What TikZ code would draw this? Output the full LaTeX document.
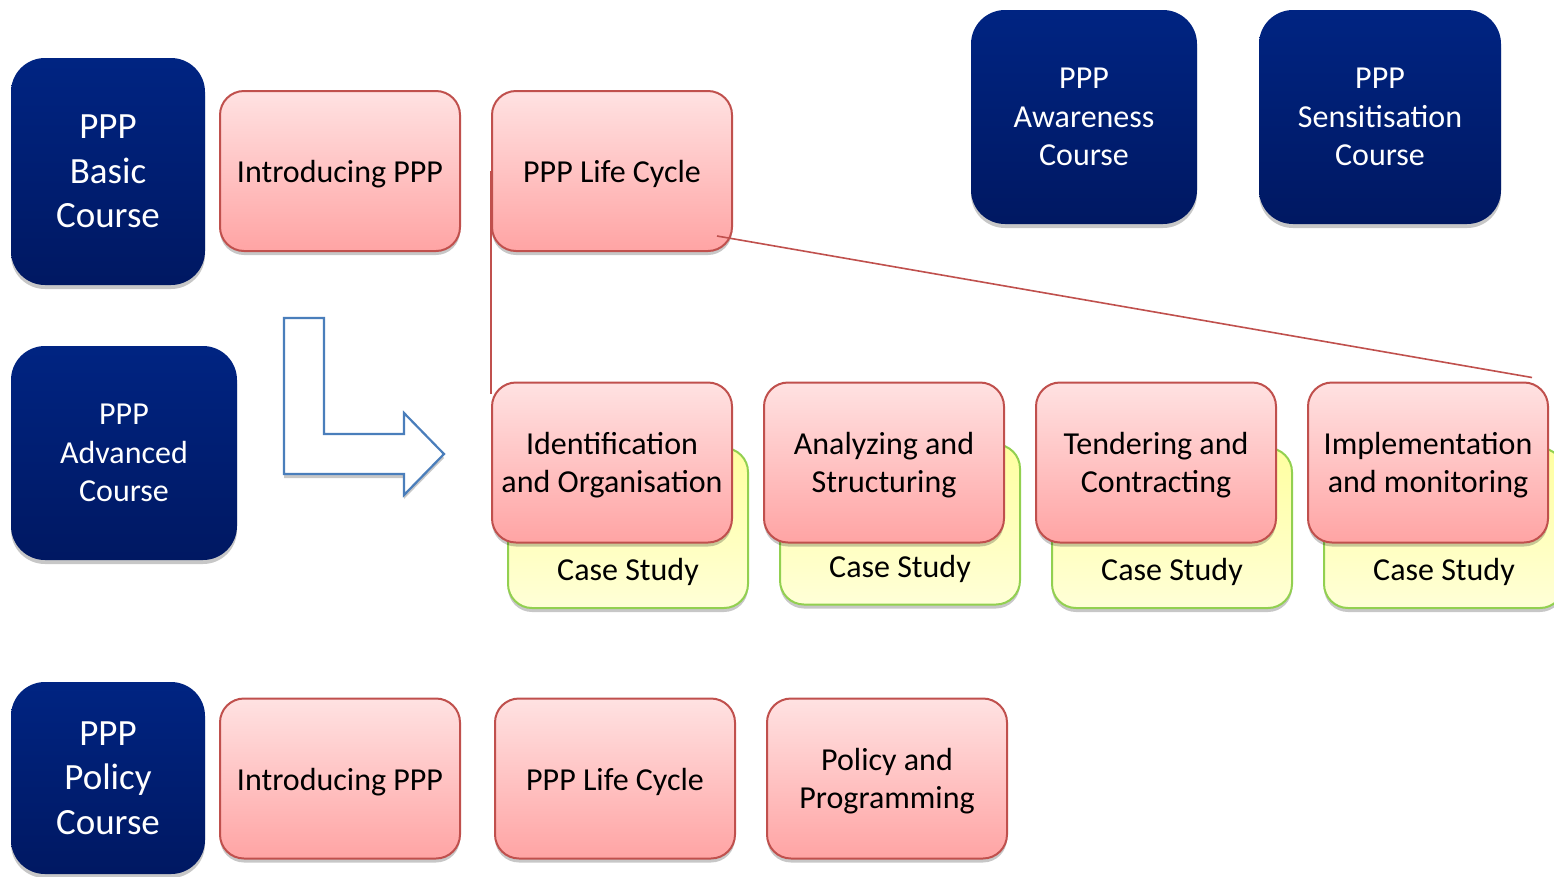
\documentclass[tikz,border=0pt]{standalone}
\usepackage{fontspec}
\setmainfont{Carlito}
\usetikzlibrary{shadows,calc}
\definecolor{navytop}{RGB}{0,36,130}
\definecolor{navybot}{RGB}{0,24,98}
\definecolor{pinktop}{RGB}{255,226,226}
\definecolor{pinkbot}{RGB}{255,164,164}
\definecolor{pinkline}{RGB}{192,80,77}
\definecolor{yeltop}{RGB}{255,255,160}
\definecolor{yelbot}{RGB}{255,255,215}
\definecolor{yelline}{RGB}{146,208,80}
\definecolor{arrowline}{RGB}{74,126,187}
\newcommand{\twolines}[2]{\begin{tabular}{@{}c@{}}\rule{0pt}{34pt}#1\\#2\end{tabular}}
\tikzset{
 shad/.style={drop shadow={shadow xshift=0pt,shadow yshift=-4pt,opacity=0.22,fill=black}},
 course/.style={shad, rectangle, rounded corners=34pt, top color=navytop, bottom color=navybot, draw=none, text=white, align=center, inner sep=0pt},
 bigtxt/.style={font=\fontsize{37}{44.5}\selectfont},
 midtxt/.style={font=\fontsize{32}{38.5}\selectfont},
 topic/.style={shad, rectangle, rounded corners=24pt, top color=pinktop, bottom color=pinkbot, draw=pinkline, line width=2pt, minimum width=240pt, minimum height=160pt, inner sep=0pt, font=\fontsize{32}{38}\selectfont},
 onetopic/.style={topic, execute at begin node={\rule{0pt}{29pt}}},
 casebox/.style={shad, rectangle, rounded corners=24pt, top color=yeltop, bottom color=yelbot, draw=yelline, line width=2pt, minimum width=240pt, minimum height=160pt},
 casetxt/.style={font=\fontsize{32}{38}\selectfont, inner sep=0pt},
 link/.style={draw=pinkline, line width=1.6pt},
 bentarrow/.style={draw=arrowline, line width=2.2pt, fill=white, shad, line join=miter},
}
\begin{document}
\begin{tikzpicture}[x=1pt,y=-1pt]
\useasboundingbox (0,0) rectangle (1554,876);
\fill[white] (0,0) rectangle (1554,876);
\clip (0,0) rectangle (1554,876);

% course boxes
\node[course, bigtxt, minimum width=194pt, minimum height=227pt] (basic) at (108,171.5) {PPP\\Basic\\Course};
\node[course, midtxt, minimum width=226pt, minimum height=214pt] (adv) at (124,453) {PPP\\Advanced\\Course};
\node[course, bigtxt, minimum width=194pt, minimum height=192pt] (pol) at (108,778) {PPP\\Policy\\Course};
\node[course, midtxt, minimum width=226pt, minimum height=214pt] (awa) at (1084,117) {PPP\\Awareness\\Course};
\node[course, midtxt, minimum width=242pt, minimum height=214pt] (sen) at (1380,117) {PPP\\Sensitisation\\Course};

% bent arrow
\draw[bentarrow] (284,318) -- (324,318) -- (324,434) -- (404,434) -- (404,413) -- (444,454) -- (404,495) -- (404,474) -- (284,474) -- cycle;

% case study boxes
\node[casebox] (cs1) at (628,528) {};
\node[casebox] (cs2) at (900,524.5) {};
\node[casebox] (cs3) at (1172,528) {};
\node[casebox] (cs4) at (1444,528) {};
\node[casetxt] (ct1) at ($(cs1.south)+(0,-37)$) {Case Study};
\node[casetxt] (ct2) at ($(cs2.south)+(0,-37)$) {Case Study};
\node[casetxt] (ct3) at ($(cs3.south)+(0,-37)$) {Case Study};
\node[casetxt] (ct4) at ($(cs4.south)+(0,-37)$) {Case Study};

% topic boxes
\node[onetopic] (ip1) at (340,171) {Introducing PPP};
\node[onetopic] (lc1) at (612,171) {PPP Life Cycle};
\node[topic] (io) at (612,462.5) {\twolines{Identification}{and Organisation}};
\node[topic] (as) at (884,462.5) {\twolines{Analyzing and}{Structuring}};
\node[topic] (tc) at (1156,462.5) {\twolines{Tendering and}{Contracting}};
\node[topic] (im) at (1428,462.5) {\twolines{Implementation}{and monitoring}};
\node[onetopic] (ip2) at (340,778.5) {Introducing PPP};
\node[onetopic] (lc2) at (615,778.5) {PPP Life Cycle};
\node[topic] (pp) at (887,778.5) {\twolines{Policy and}{Programming}};

% connectors
\coordinate (v2) at ($(io.north west)+(0,12)$);
\coordinate (d1) at ($(lc1.south east)+(-16,-16)$);
\coordinate (d2) at ($(im.north east)+(-17,-4)$);
\draw[link] (lc1.west) -- (v2);
\draw[link] (d1) -- (d2);
\end{tikzpicture}
\end{document}
